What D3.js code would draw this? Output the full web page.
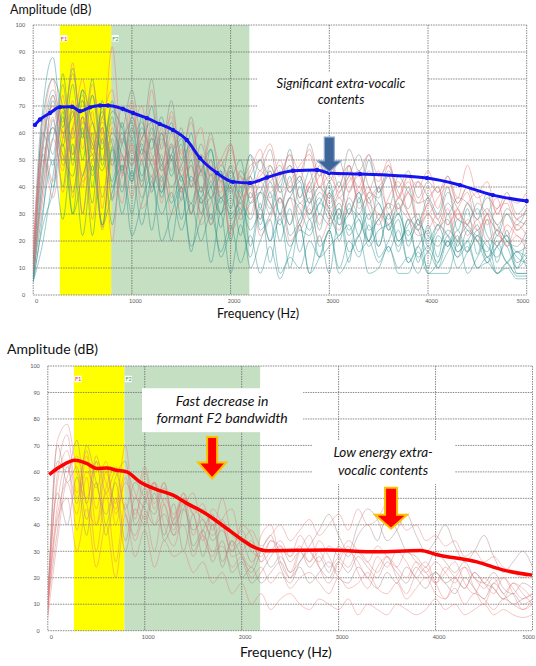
<!DOCTYPE html>
<html>
<head>
<meta charset="utf-8">
<script src="https://cdn.jsdelivr.net/npm/d3@7"></script>
<style>
body { margin: 0; background: #fff; }
text { font-family: Lato, "Open Sans", sans-serif; }
</style>
</head>
<body>
<div id="chart"></div>
<script>

const width = 536;
const height = 666;

// sample grid of the spectra (Hz)
const spectrumFreqs = [0, 100, 200, 300, 400, 500, 600, 700, 800, 900,
    1000, 1100, 1200, 1300, 1400, 1500, 1600, 1700, 1800, 1900,
    2000, 2100, 2200, 2300, 2400, 2500, 2600, 2700, 2800, 2900,
    3000, 3100, 3200, 3300, 3400, 3500, 3600, 3700, 3800, 3900,
    4000, 4100, 4200, 4300, 4400, 4500, 4600, 4700, 4800, 4900, 5000];

const xTicks = [0, 1000, 2000, 3000, 4000, 5000];
const yTicks = [0, 10, 20, 30, 40, 50, 60, 70, 80, 90, 100];
const f1Band = [270, 790];
const f2Band = [790, 2190];

// top panel: individual spectra
const topTeal = [
    [6, 45, 72, 55, 78, 50, 74, 48, 66, 45, 62, 40, 58, 38, 55, 35, 50, 30, 45, 25, 40, 22, 38, 28, 42, 30, 44, 26, 40, 24, 38, 20, 34, 22, 36, 18, 30, 16, 28, 12, 26, 14, 30, 18, 32, 15, 28, 12, 24, 10, 22],
    [10, 60, 48, 82, 52, 76, 40, 70, 35, 64, 42, 66, 38, 60, 44, 56, 30, 52, 28, 46, 20, 40, 18, 34, 12, 30, 10, 26, 8, 22, 8, 30, 12, 36, 20, 40, 24, 34, 18, 28, 8, 8, 8, 20, 26, 32, 22, 18, 12, 8, 8],
    [5, 30, 65, 40, 70, 30, 60, 25, 55, 38, 58, 42, 62, 36, 52, 28, 44, 36, 50, 30, 46, 38, 52, 32, 48, 40, 54, 36, 46, 30, 42, 28, 48, 34, 50, 38, 44, 30, 40, 26, 36, 30, 40, 24, 34, 28, 38, 22, 30, 26, 32],
    [8, 70, 88, 62, 84, 58, 80, 50, 72, 46, 66, 52, 70, 48, 64, 42, 60, 38, 54, 34, 48, 30, 42, 26, 38, 20, 32, 16, 28, 14, 24, 10, 20, 14, 26, 18, 30, 20, 24, 14, 18, 12, 22, 16, 20, 10, 14, 8, 12, 7, 7],
    [12, 52, 40, 68, 30, 62, 22, 58, 26, 48, 30, 50, 24, 44, 20, 40, 16, 36, 12, 30, 8, 26, 14, 32, 20, 36, 26, 40, 30, 36, 28, 34, 24, 30, 20, 28, 16, 24, 12, 18, 10, 22, 18, 28, 24, 20, 16, 24, 20, 14, 12],
    [5, 40, 58, 70, 50, 66, 46, 62, 42, 58, 48, 62, 54, 66, 50, 58, 42, 50, 36, 44, 32, 46, 40, 50, 44, 48, 38, 44, 34, 40, 36, 42, 30, 38, 28, 34, 24, 30, 22, 28, 20, 26, 18, 24, 16, 22, 14, 20, 12, 16, 14],
    [7, 32, 50, 28, 56, 22, 48, 26, 54, 30, 46, 26, 42, 30, 38, 24, 34, 20, 30, 16, 26, 12, 22, 8, 18, 6, 14, 10, 20, 14, 18, 22, 26, 16, 20, 12, 18, 10, 14, 8, 16, 10, 20, 14, 18, 10, 12, 8, 10, 6, 6],
    [9, 54, 74, 60, 66, 72, 54, 68, 48, 60, 44, 56, 40, 48, 34, 44, 30, 40, 26, 36, 30, 34, 24, 30, 20, 28, 18, 24, 22, 30, 26, 32, 22, 28, 18, 24, 26, 30, 20, 26, 22, 18, 24, 20, 16, 22, 18, 14, 20, 16, 18],
    [5, 20, 44, 66, 38, 60, 34, 72, 40, 56, 64, 44, 58, 50, 40, 48, 56, 34, 40, 46, 28, 36, 44, 24, 30, 40, 22, 28, 36, 18, 24, 32, 16, 22, 30, 14, 20, 28, 12, 18, 24, 10, 16, 22, 8, 14, 20, 8, 12, 16, 10],
    [6, 66, 80, 70, 58, 76, 64, 54, 68, 62, 50, 58, 64, 46, 52, 60, 40, 46, 54, 36, 42, 50, 34, 38, 46, 30, 36, 42, 28, 34, 40, 26, 30, 38, 24, 28, 34, 20, 26, 30, 18, 24, 28, 16, 20, 26, 14, 18, 22, 12, 16],
    [5, 26, 38, 56, 30, 44, 52, 26, 38, 48, 22, 34, 44, 20, 30, 40, 18, 28, 36, 14, 24, 32, 10, 20, 28, 8, 16, 26, 8, 14, 24, 8, 14, 22, 8, 10, 18, 8, 8, 16, 8, 12, 20, 10, 16, 24, 12, 18, 22, 8, 8],
    [7, 48, 62, 52, 44, 64, 56, 46, 60, 52, 42, 54, 48, 38, 50, 44, 34, 46, 40, 30, 42, 36, 28, 38, 34, 26, 36, 32, 24, 34, 30, 22, 32, 28, 20, 30, 26, 18, 28, 24, 16, 26, 22, 14, 24, 20, 12, 22, 18, 10, 14]
];
const topSalmon = [
    [15, 62, 80, 58, 86, 54, 78, 60, 92, 56, 72, 50, 76, 46, 68, 52, 64, 44, 58, 48, 54, 42, 48, 50, 56, 44, 52, 46, 54, 40, 50, 44, 48, 38, 46, 42, 50, 36, 44, 40, 46, 38, 42, 34, 40, 36, 38, 30, 36, 28, 32],
    [18, 48, 66, 38, 62, 30, 56, 24, 50, 34, 56, 40, 60, 34, 52, 38, 56, 30, 48, 36, 40, 32, 44, 28, 46, 34, 40, 30, 42, 26, 38, 30, 44, 36, 40, 28, 34, 32, 38, 26, 30, 24, 32, 20, 28, 24, 30, 18, 26, 22, 20],
    [8, 36, 58, 46, 72, 40, 68, 32, 62, 44, 70, 48, 64, 40, 60, 46, 56, 38, 50, 42, 46, 36, 40, 44, 48, 38, 42, 48, 52, 40, 44, 38, 46, 40, 52, 44, 48, 36, 42, 34, 40, 32, 44, 36, 48, 38, 42, 30, 36, 34, 38],
    [20, 55, 42, 74, 36, 66, 28, 60, 20, 52, 36, 58, 42, 62, 36, 54, 30, 48, 26, 42, 22, 38, 30, 42, 34, 28, 36, 24, 32, 20, 28, 36, 30, 40, 34, 30, 26, 32, 28, 22, 24, 30, 26, 32, 22, 28, 20, 24, 18, 22, 16],
    [12, 40, 74, 50, 60, 80, 56, 66, 76, 50, 60, 70, 48, 56, 66, 44, 52, 62, 42, 50, 56, 40, 46, 54, 38, 44, 52, 36, 42, 50, 34, 40, 48, 32, 38, 46, 30, 36, 44, 28, 34, 40, 26, 32, 38, 24, 30, 36, 22, 28, 30],
    [10, 50, 36, 58, 68, 42, 50, 62, 36, 44, 56, 32, 40, 52, 30, 36, 48, 26, 34, 44, 24, 30, 40, 22, 28, 36, 20, 26, 34, 40, 30, 24, 38, 44, 32, 26, 36, 42, 30, 24, 34, 28, 22, 30, 26, 20, 28, 24, 18, 26, 22],
    [16, 58, 70, 60, 52, 66, 58, 50, 64, 56, 48, 60, 52, 44, 56, 48, 40, 52, 46, 38, 48, 44, 36, 46, 42, 50, 40, 46, 38, 44, 48, 36, 42, 46, 34, 40, 44, 32, 38, 42, 30, 36, 40, 28, 34, 38, 26, 32, 34, 24, 28]
];
const topGray = [
    [10, 58, 76, 64, 82, 60, 74, 56, 70, 62, 76, 58, 80, 54, 72, 50, 66, 46, 60, 42, 56, 40, 52, 46, 54, 38, 48, 42, 56, 44, 50, 40, 54, 46, 52, 38, 48, 40, 46, 36, 42, 38, 44, 34, 40, 30, 36, 32, 38, 30, 34],
    [6, 44, 62, 50, 68, 44, 64, 36, 58, 40, 54, 36, 50, 42, 56, 38, 48, 34, 42, 30, 36, 28, 34, 38, 30, 36, 26, 34, 30, 38, 32, 26, 36, 30, 38, 34, 28, 36, 30, 24, 30, 26, 34, 28, 26, 22, 30, 26, 20, 18, 24],
    [14, 66, 52, 78, 48, 72, 44, 66, 50, 70, 58, 64, 50, 60, 46, 62, 40, 56, 44, 50, 38, 44, 36, 40, 32, 46, 38, 44, 34, 48, 42, 50, 38, 46, 36, 40, 32, 44, 38, 34, 36, 40, 30, 36, 34, 28, 32, 26, 30, 24, 28],
    [8, 56, 70, 48, 62, 74, 52, 64, 56, 46, 66, 54, 44, 58, 50, 40, 54, 46, 36, 48, 42, 34, 44, 50, 36, 42, 48, 34, 40, 46, 32, 38, 44, 52, 40, 36, 46, 38, 32, 42, 36, 28, 38, 32, 26, 34, 30, 24, 32, 28, 26]
];

// top panel: mean spectrum (blue)
const blueFreq = [18, 69, 170, 272, 393, 474, 575, 677, 758, 910, 1011, 1153, 1284, 1416, 1556, 1690, 1862, 2024, 2197, 2369, 2632, 2876, 2997, 3311, 3990, 4324, 4658, 5000];
const blueDb = [63, 65, 67.4, 69.6, 69.7, 68.1, 69.5, 70.2, 70.2, 68.9, 67.4, 65.5, 63.3, 61.1, 57.4, 50.7, 45.2, 41.9, 41.5, 43.5, 46, 46.3, 45.2, 44.8, 43.3, 40.7, 37, 34.8];

// bottom panel: individual spectra
const bottomSalmon = [
    [6, 60, 74, 52, 68, 46, 62, 40, 58, 44, 54, 40, 50, 44, 52, 36, 46, 40, 42, 32, 38, 30, 28, 34, 32, 28, 36, 30, 26, 32, 28, 24, 30, 26, 22, 28, 24, 20, 26, 22, 18, 24, 20, 16, 22, 18, 14, 20, 16, 12, 14],
    [10, 48, 64, 38, 58, 30, 52, 26, 48, 34, 44, 30, 48, 36, 40, 28, 36, 30, 32, 24, 28, 20, 24, 18, 22, 16, 20, 22, 18, 14, 20, 16, 18, 22, 16, 14, 18, 12, 16, 20, 14, 12, 16, 10, 14, 12, 8, 12, 10, 8, 10],
    [5, 34, 56, 44, 66, 40, 60, 48, 70, 42, 60, 46, 56, 40, 52, 44, 48, 38, 50, 36, 34, 38, 32, 36, 40, 34, 38, 42, 36, 40, 44, 38, 46, 40, 42, 48, 44, 38, 40, 34, 36, 32, 34, 28, 30, 26, 28, 24, 22, 20, 22],
    [12, 56, 68, 50, 60, 54, 64, 44, 56, 50, 62, 48, 56, 42, 50, 46, 42, 36, 40, 28, 30, 34, 26, 30, 34, 28, 32, 26, 30, 24, 28, 34, 30, 26, 32, 28, 24, 30, 26, 22, 26, 22, 18, 24, 20, 16, 20, 14, 18, 16, 12],
    [7, 42, 50, 30, 46, 24, 40, 20, 44, 28, 38, 24, 34, 28, 30, 22, 26, 18, 22, 14, 18, 10, 14, 8, 12, 14, 10, 8, 12, 10, 8, 12, 6, 10, 8, 6, 10, 8, 6, 8, 12, 8, 10, 6, 8, 10, 6, 8, 6, 5, 6],
    [6, 72, 78, 60, 50, 64, 56, 46, 60, 52, 42, 56, 48, 38, 50, 44, 34, 46, 40, 30, 40, 36, 26, 34, 30, 22, 30, 26, 34, 28, 22, 30, 26, 20, 28, 24, 30, 26, 20, 24, 18, 22, 26, 18, 14, 20, 16, 12, 18, 14, 10],
    [14, 44, 58, 66, 48, 40, 54, 62, 44, 36, 50, 56, 40, 32, 46, 52, 36, 28, 42, 46, 30, 24, 36, 40, 26, 20, 30, 36, 24, 18, 26, 32, 22, 16, 24, 28, 20, 14, 22, 26, 18, 12, 20, 24, 16, 10, 18, 20, 14, 8, 12]
];
const bottomGray = [
    [8, 70, 56, 62, 42, 56, 36, 50, 30, 46, 40, 52, 36, 48, 30, 44, 28, 40, 24, 34, 20, 24, 18, 22, 26, 20, 24, 18, 22, 26, 20, 18, 24, 20, 16, 22, 18, 24, 20, 16, 22, 18, 14, 20, 16, 12, 18, 14, 10, 12, 14],
    [9, 64, 60, 72, 48, 66, 52, 60, 46, 56, 50, 44, 54, 40, 46, 38, 42, 34, 38, 30, 34, 26, 30, 24, 28, 22, 26, 30, 24, 20, 26, 22, 28, 24, 20, 26, 22, 18, 24, 20, 22, 18, 20, 16, 22, 18, 16, 12, 14, 10, 12],
    [15, 52, 40, 58, 36, 64, 40, 56, 34, 50, 46, 40, 44, 36, 48, 32, 38, 26, 34, 22, 26, 18, 22, 28, 32, 26, 30, 24, 28, 22, 32, 28, 36, 40, 34, 44, 38, 30, 28, 24, 30, 26, 22, 26, 20, 18, 22, 16, 14, 18, 16],
    [10, 38, 62, 48, 70, 56, 44, 58, 64, 40, 48, 56, 34, 42, 50, 30, 38, 44, 26, 34, 28, 22, 30, 36, 24, 18, 26, 32, 38, 44, 36, 30, 40, 46, 42, 34, 38, 44, 36, 30, 34, 40, 32, 26, 30, 36, 28, 22, 26, 30, 24]
];

// bottom panel: mean spectrum (red)
const redFreq = [15, 126, 281, 401, 505, 608, 711, 814, 951, 1124, 1292, 1433, 1571, 1705, 1846, 1984, 2121, 2259, 2878, 3394, 3841, 4028, 4426, 4701, 4995];
const redDb = [59, 61.9, 64.4, 63.2, 61.3, 61.5, 60.6, 60, 56.2, 53.3, 51.2, 48.1, 45.5, 42.4, 38.6, 34.9, 31.7, 30.2, 30.5, 29.8, 30.3, 28.6, 26, 22.9, 21];

const svg = d3.select("#chart")
    .append("svg")
    .attr("width", width)
    .attr("height", height);

function drawPanel(p) {
    const x = d3.scaleLinear().domain([0, 5000]).range([p.left, p.right]);
    const y = d3.scaleLinear().domain([0, 100]).range([p.bottom, p.top]);
    const g = svg.append("g");

    g.append("clipPath").attr("id", p.id + "-clip")
        .append("rect")
        .attr("x", p.left).attr("y", p.top)
        .attr("width", p.right - p.left).attr("height", p.bottom - p.top);

    // formant bands
    g.append("rect")
        .attr("x", x(f1Band[0])).attr("y", y(100))
        .attr("width", x(f1Band[1]) - x(f1Band[0])).attr("height", y(0) - y(100))
        .attr("fill", "#ffff00");
    g.append("rect")
        .attr("x", x(f2Band[0])).attr("y", y(100))
        .attr("width", x(f2Band[1]) - x(f2Band[0])).attr("height", y(0) - y(100))
        .attr("fill", "#c4dfc2");

    // dotted grid
    g.selectAll(".hgrid")
        .data(yTicks)
        .enter()
        .append("line")
        .attr("x1", p.left).attr("x2", p.right)
        .attr("y1", d => y(d)).attr("y2", d => y(d))
        .attr("stroke", "#6a6a6a").attr("stroke-width", 0.8)
        .attr("stroke-dasharray", "1.5,1");
    g.selectAll(".vgrid")
        .data(xTicks)
        .enter()
        .append("line")
        .attr("y1", p.top).attr("y2", p.bottom)
        .attr("x1", d => x(d)).attr("x2", d => x(d))
        .attr("stroke", "#6a6a6a").attr("stroke-width", 0.8)
        .attr("stroke-dasharray", "1.5,1");

    // tick labels
    const yAxis = g.append("g")
        .attr("transform", `translate(${p.left},0)`)
        .call(d3.axisLeft(y).tickValues(yTicks).tickSize(0).tickPadding(8));
    const xAxis = g.append("g")
        .attr("transform", `translate(0,${p.bottom})`)
        .call(d3.axisBottom(x).tickValues(xTicks).tickFormat(d3.format("d")).tickSize(0).tickPadding(4));
    [yAxis, xAxis].forEach(a => {
        a.select(".domain").remove();
        a.selectAll("text")
            .attr("font-family", "DejaVu Sans")
            .attr("font-size", 5.5)
            .attr("fill", "#555");
    });
    xAxis.selectAll("text").attr("dx", 3);
    xAxis.selectAll("text").filter(d => d === 5000).attr("text-anchor", "end").attr("dx", 2);

    // individual spectra
    const line = d3.line()
        .x((d, i) => x(spectrumFreqs[i]))
        .y(d => y(d))
        .curve(d3.curveMonotoneX);
    const curves = g.append("g").attr("clip-path", `url(#${p.id}-clip)`);
    p.groups.forEach(grp => {
        curves.selectAll(null)
            .data(grp.data)
            .enter()
            .append("path")
            .attr("d", line)
            .attr("fill", "none")
            .attr("stroke", grp.color)
            .attr("stroke-opacity", grp.opacity)
            .attr("stroke-width", 0.7);
    });

    // F1 / F2 labels
    [[f1Band[0], "F1", p.f1Color], [f2Band[0], "F2", p.f2Color]].forEach(([f, label, color]) => {
        g.append("rect")
            .attr("x", x(f) + 0.5).attr("y", y(95) - 3.5)
            .attr("width", 7).attr("height", 6.5)
            .attr("fill", "#fff");
        g.append("text")
            .attr("x", x(f) + 1).attr("y", y(95) + 2)
            .attr("font-family", "DejaVu Sans")
            .attr("font-size", 5.5)
            .attr("fill", color)
            .text(label);
    });

    // annotation boxes
    p.notes.forEach(n => {
        g.append("rect")
            .attr("x", x(n.f0)).attr("y", y(n.db1))
            .attr("width", x(n.f1) - x(n.f0)).attr("height", y(n.db0) - y(n.db1))
            .attr("fill", "#fff");
        n.lines.forEach((t, i) => {
            g.append("text")
                .attr("x", x(n.fText))
                .attr("y", y(n.dbText) + i * n.lineHeight)
                .attr("text-anchor", "middle")
                .attr("font-style", "italic")
                .attr("font-size", n.size)
                .attr("fill", "#111")
                .text(t);
        });
    });

    // mean spectrum
    const meanLine = d3.line()
        .x((d, i) => x(p.meanFreq[i]))
        .y(d => y(d))
        .curve(d3.curveMonotoneX);
    g.append("path")
        .datum(p.meanDb)
        .attr("d", meanLine)
        .attr("fill", "none")
        .attr("stroke", p.meanColor)
        .attr("stroke-width", p.meanWidth)
        .attr("stroke-linejoin", "round");
    if (p.meanDots) {
        g.selectAll(".meandot")
            .data(p.meanDb)
            .enter()
            .append("circle")
            .attr("cx", (d, i) => x(p.meanFreq[i]))
            .attr("cy", d => y(d))
            .attr("r", 2.2)
            .attr("fill", p.meanColor);
    }

    // arrows
    p.arrows.forEach(a => {
        const cx = x(a.f), yt = y(a.dbTop), yb = y(a.dbTip);
        const yh = yb - a.head;
        const pts = [
            [cx - a.body, yt], [cx + a.body, yt], [cx + a.body, yh],
            [cx + a.wing, yh], [cx, yb], [cx - a.wing, yh], [cx - a.body, yh]
        ];
        g.append("path")
            .attr("d", "M" + pts.map(q => q.join(",")).join("L") + "Z")
            .attr("fill", a.fill)
            .attr("stroke", a.stroke)
            .attr("stroke-width", a.strokeWidth)
            .attr("stroke-linejoin", "miter");
    });

    // axis titles
    g.append("text")
        .attr("x", p.yTitle[0]).attr("y", p.yTitle[1])
        .attr("font-size", p.titleSize)
        .attr("fill", "#111")
        .text("Amplitude (dB)");
    g.append("text")
        .attr("x", p.xTitle[0]).attr("y", p.xTitle[1])
        .attr("font-size", p.titleSize)
        .attr("fill", "#111")
        .text("Frequency (Hz)");
}

drawPanel({
    id: "top", left: 33.2, right: 526.7, top: 25, bottom: 295,
    groups: [
        { data: topTeal, color: "#2a8c8c", opacity: 0.65 },
        { data: topGray, color: "#8a8a8a", opacity: 0.7 },
        { data: topSalmon, color: "#f07a7a", opacity: 0.7 }
    ],
    f1Color: "#e0306a", f2Color: "#3a9a4a",
    meanFreq: blueFreq, meanDb: blueDb, meanColor: "#1414f0", meanWidth: 3, meanDots: true,
    notes: [
        { f0: 2270, f1: 3990, db0: 67.8, db1: 82.6, fText: 3119, dbText: 76.7, lineHeight: 16,
          size: 13, lines: ["Significant extra-vocalic", "contents"] }
    ],
    arrows: [
        { f: 3000, dbTop: 58.5, dbTip: 45.6, body: 5, wing: 12, head: 11,
          fill: "#3d6597", stroke: "#8aa9d0", strokeWidth: 1.2 }
    ],
    titleSize: 12.5, yTitle: [10, 14], xTitle: [217, 318]
});

drawPanel({
    id: "bottom", left: 47.8, right: 532.5, top: 366, bottom: 630.7,
    groups: [
        { data: bottomGray, color: "#a88686", opacity: 0.65 },
        { data: bottomSalmon, color: "#e87878", opacity: 0.6 }
    ],
    f1Color: "#e0306a", f2Color: "#3a9a4a",
    meanFreq: redFreq, meanDb: redDb, meanColor: "#ff0000", meanWidth: 3.5, meanDots: false,
    notes: [
        { f0: 972, f1: 2634, db0: 75, db1: 91.6, fText: 1798, dbText: 84.8, lineHeight: 17,
          size: 14, lines: ["Fast decrease in", "formant F2 bandwidth"] },
        { f0: 2727, f1: 4202, db0: 55.4, db1: 72, fText: 3459, dbText: 65.7, lineHeight: 18,
          size: 13.5, lines: ["Low energy extra-", "vocalic contents"] }
    ],
    arrows: [
        { f: 1695, dbTop: 73.2, dbTip: 57.5, body: 5, wing: 14, head: 16,
          fill: "#ff0000", stroke: "#ffc000", strokeWidth: 2 },
        { f: 3541, dbTop: 54, dbTip: 38.5, body: 6, wing: 16, head: 14,
          fill: "#ff0000", stroke: "#ffc000", strokeWidth: 2 }
    ],
    titleSize: 14, yTitle: [7, 354], xTitle: [240, 657]
});

</script>
</body>
</html>
